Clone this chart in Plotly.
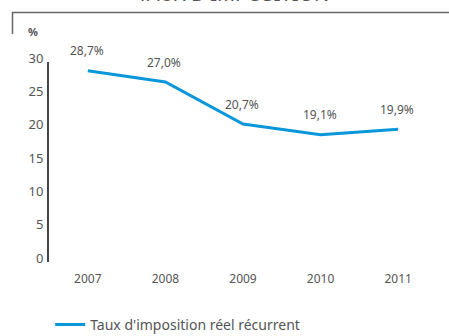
import plotly.graph_objects as go

years = ["2007", "2008", "2009", "2010", "2011"]
rates = [28.7, 27.0, 20.7, 19.1, 19.9]
series_name = "Taux d'imposition réel récurrent"
y_ticks = [0, 5, 10, 15, 20, 25, 30]

FONT = "Noto Sans"
GRAY = "#555555"
BLUE = "#0a97d9"

xpos = list(range(len(years)))

fig = go.Figure()
fig.add_trace(go.Scatter(
    x=xpos, y=rates, mode="lines", name=series_name,
    line=dict(color=BLUE, width=3), showlegend=True,
))

for x, v in zip(xpos, rates):
    fig.add_annotation(
        x=x, y=v, xref="x", yref="y",
        text=f"{v:.1f}".replace(".", ",") + "%",
        showarrow=False, yshift=20, xshift=-1,
        font=dict(family=FONT, size=12, color=GRAY),
    )

# Cut-off title at top
fig.add_annotation(
    xref="paper", yref="paper", x=0.475, y=1, yshift=53,
    xanchor="center", yanchor="bottom",
    text="TAUX D'IMPOSITION", showarrow=False,
    font=dict(family=FONT, size=20, color=GRAY),
)
# % unit label
fig.add_annotation(
    xref="paper", yref="paper", x=0, y=1, xshift=-16, yshift=31,
    xanchor="center", yanchor="middle",
    text="<b>%</b>", showarrow=False,
    font=dict(family=FONT, size=11, color=GRAY),
)

pw = 449 - 49 - 12
ph = 336 - 62 - 74
def px_x(px):
    return (px - 49) / pw
def px_y(py):
    return (336 - 74 - py) / ph
fig.add_shape(type="line", xref="paper", yref="paper",
              x0=px_x(12), x1=px_x(449), y0=px_y(12.5), y1=px_y(12.5),
              line=dict(color="#666666", width=1.5))
fig.add_shape(type="line", xref="paper", yref="paper",
              x0=px_x(12.5), x1=px_x(12.5), y0=px_y(12), y1=px_y(34),
              line=dict(color="#666666", width=1.5))

fig.update_layout(
    width=449, height=336,
    margin=dict(l=49, r=12, t=62, b=74, autoexpand=False),
    paper_bgcolor="white", plot_bgcolor="white",
    font=dict(family=FONT, color=GRAY, size=12),
    xaxis=dict(
        range=[-0.5, 4.5], tickvals=xpos, ticktext=years,
        showgrid=False, zeroline=False,
        showline=False, ticks="", tickfont=dict(size=12, color=GRAY),
        ticklabelstandoff=8,
    ),
    yaxis=dict(
        range=[0, 30], tickvals=y_ticks, showgrid=False, zeroline=False,
        showline=True, linecolor="#444444", linewidth=2, ticks="",
        tickfont=dict(size=13, color=GRAY), ticklabelshift=-4,
        ticklabelstandoff=1,
    ),
    legend=dict(
        orientation="h", x=0.003, y=(336 - 325) / 336, yref="container",
        xanchor="left", yanchor="middle",
        font=dict(size=14, color=GRAY), itemwidth=30,
    ),
    showlegend=True,
)

fig.write_html(
    "out.html",
    config={"displayModeBar": False},
    post_script="document.body.style.margin='0';document.body.style.overflow='hidden';",
)
